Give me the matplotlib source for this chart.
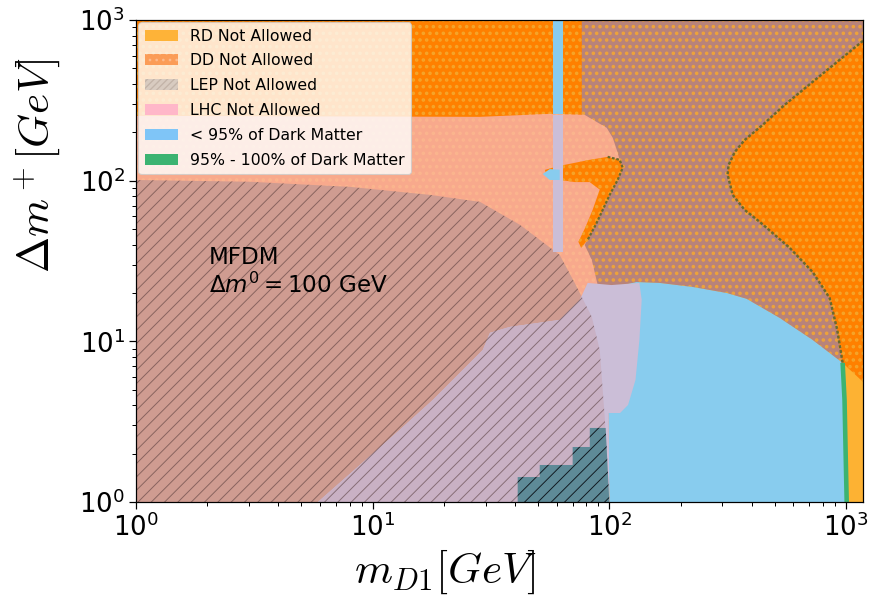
import numpy as np
import matplotlib
matplotlib.use('Agg')
import matplotlib.pyplot as plt
from matplotlib.patches import Patch

# axis ranges
x_lim = [1, 1180]
y_lim = [1, 1000]

# 95% DM contour (green band), top right -> bottom
curve_x = [1180, 940, 723, 550, 444, 373, 339, 319, 316, 332, 373, 432, 578, 723, 853, 918, 968, 986, 996, 1007]
curve_y = [742, 565, 412, 296, 222, 179, 151, 125, 109, 81.6, 65.8, 55.4, 38.2, 27.0, 18.6, 11.8, 7.34, 4.32, 2.11, 1.0]
n_dd = 17  # contour points covered by DD

# top edge of the allowed < 95% DM region
arc_x = [102, 130, 163, 225, 313, 380, 524, 723, 968]
arc_y = [21.5, 23.4, 23.1, 21.8, 20.0, 18.4, 14.0, 10.2, 7.34]

# left edge of DD over DM region
mauve_left_x = [87.6, 82.6, 75.0, 76.5, 76.5]
mauve_left_y = [20.9, 23.1, 37.1, 256.8, 1000]

# DD lower edge at the right side
dd_right_y = 5.59

# LHC + DD region
lhc_x = [1, 28.4, 56.0, 78.7, 82.6, 97.5, 103.4, 107.5, 110.6, 105.4, 95.6, 86.8, 78.7, 84.3, 89.3, 91.1, 98.4, 1]
lhc_y = [253.2, 249.6, 260.5, 256.8, 246.0, 213.2, 184.7, 155.5, 134.8, 101.2, 75.9, 53.1, 39.8, 32.1, 22.4, 11.8, 1, 1]

# DD blob near the higgs funnel
blob_x = [53.4, 61.7, 71.4, 82.6, 98.4, 110.6, 113.9, 108.5, 100.4, 93.8, 87.6, 81.0, 76.0, 74.0, 79.0, 85.0, 91.1, 82.6, 71.4, 61.7, 54.9]
blob_y = [116.7, 123.7, 129.1, 134.8, 140.7, 134.8, 120.2, 101.2, 81.6, 65.8, 53.1, 42.8, 38.2, 41.6, 50.8, 65.8, 88.0, 98.0, 98.0, 101.2, 104.1]
blob_edge_x = [98.4, 110.6, 113.9, 108.5, 100.4, 93.8, 87.6, 81.0]
blob_edge_y = [140.7, 134.8, 120.2, 101.2, 81.6, 65.8, 53.1, 42.8]

# LHC over DM region
lav_x = [5.87, 8.83, 13.0, 17.96, 29.2, 31.3, 38.0, 61.7, 75.0, 81.0, 102, 134, 137, 134, 129, 120, 111, 99.4, 100]
lav_y = [1, 1.70, 2.81, 4.32, 8.84, 11.3, 12.3, 13.6, 18.1, 23.1, 22.4, 23.1, 18.1, 10.2, 5.75, 4.02, 3.58, 3.58, 1]

# LEP excluded region
lep_x = [1, 1, 3.03, 8.01, 17.4, 28.4, 41.9, 61.7, 71.4, 84.3, 91.1, 95.6, 100]
lep_y = [1, 101, 98.4, 91.5, 81.6, 73.8, 53.1, 34.5, 23.1, 14.2, 8.84, 3.38, 1]

# darker LEP steps
stair_x = [41.0, 41.0, 50.8, 50.8, 70.0, 70.0, 82.7, 82.7, 96.5, 100]
stair_y = [1, 1.43, 1.43, 1.70, 1.70, 2.20, 2.20, 2.89, 2.89, 1]

# higgs funnel strip
strip_x = [57.7, 63.6]
strip_split = 257
strip_bottom = 36
spot_x = [52.3, 56.0, 61.7, 61.7, 56.0]
spot_y = [110, 118, 117, 101, 101]

legend_labels = ['RD Not Allowed', 'DD Not Allowed', 'LEP Not Allowed', 'LHC Not Allowed',
                 '< 95% of Dark Matter', '95% - 100% of Dark Matter']


def hlw(patches, lw):
    for p in patches:
        if hasattr(p, 'set_hatch_linewidth'):
            p.set_hatch_linewidth(lw)


DPI = 80
fig = plt.figure(figsize=(869 / DPI, 603 / DPI), dpi=DPI)
ax = fig.add_axes([136 / 869, 1 - 502 / 603, 727 / 869, 482 / 603])
ax.set_xscale('log')
ax.set_yscale('log')

dot_lw = 2.0
line_lw = 0.85

# base: DD over RD
plt.rcParams['hatch.linewidth'] = dot_lw
p = ax.fill([x_lim[0], x_lim[1], x_lim[1], x_lim[0]], [y_lim[0], y_lim[0], y_lim[1], y_lim[1]],
            facecolor='#ff8000', edgecolor='#f5a52a', hatch='..', lw=0, zorder=1)
hlw(p, dot_lw)

# DD over DM
mauve_x = [76.5, 1180] + curve_x[:n_dd] + arc_x[-2::-1] + mauve_left_x
mauve_y = [1000, 1000] + curve_y[:n_dd] + arc_y[-2::-1] + mauve_left_y
p = ax.fill(mauve_x, mauve_y, facecolor='#b8837a', edgecolor='#eea33a', hatch='..', lw=0, zorder=2)
hlw(p, dot_lw)

# allowed DM
blue_x = [100, 97.5] + arc_x + curve_x[n_dd:]
blue_y = [1, 21] + arc_y + curve_y[n_dd:]
ax.fill(blue_x, blue_y, facecolor='#88ccee', lw=0, zorder=3)

# RD only
rd_x = curve_x[n_dd - 1:] + [1180, 1180]
rd_y = curve_y[n_dd - 1:] + [1, dd_right_y]
ax.fill(rd_x, rd_y, facecolor='#fdb233', lw=0, zorder=3)

# strip top part
ax.fill_between(strip_x, strip_split, y_lim[1], facecolor='#88ccee', lw=0, zorder=3)

# LHC over DD
p = ax.fill(lhc_x, lhc_y, facecolor='#f8a98c', edgecolor='#fbb58e', hatch='..', lw=0, zorder=4)
hlw(p, dot_lw)
p = ax.fill(blob_x, blob_y, facecolor='#ff8000', edgecolor='#f5a52a', hatch='..', lw=0, zorder=5)
hlw(p, dot_lw)
ax.plot(blob_edge_x, blob_edge_y, color='#6a6a2c', lw=2.0, ls=(0, (1.2, 0.8)), zorder=6)

# LEP fill
lep_patch = ax.fill(lep_x, lep_y, facecolor='#cf9c91', lw=0, zorder=6)[0]

# LHC over DM
ax.fill(lav_x, lav_y, facecolor='#cbbed7', lw=0, zorder=7)
lav2 = ax.fill(lav_x, lav_y, facecolor='#c9b1c4', lw=0, zorder=7.5)[0]
lav2.set_clip_path(lep_patch)

ax.fill_between(strip_x, strip_bottom, strip_split, facecolor='#cbbed7', lw=0, zorder=7)
ax.fill(spot_x, spot_y, facecolor='#88ccee', lw=0, zorder=7)

# LEP hatch
plt.rcParams['hatch.linewidth'] = line_lw
p = ax.fill(lep_x, lep_y, facecolor='none', edgecolor=(0.3, 0.2, 0.2, 0.55), hatch='//', lw=0, zorder=8)
hlw(p, line_lw)
p = ax.fill(stair_x, stair_y, facecolor='#5e8a97', edgecolor='#101820', hatch='//', lw=0, zorder=9)
hlw(p, line_lw)

# contour
ax.plot(curve_x[:n_dd], curve_y[:n_dd], color='#6a6a2c', lw=2.2, ls=(0, (1.2, 0.8)), zorder=10)
ax.plot(curve_x[n_dd - 1:], curve_y[n_dd - 1:], color='#3cb371', lw=4.1, zorder=10, solid_capstyle='butt')

ax.text(2.03, 39.3, 'MFDM\n$\\Delta m^0 = 100$ GeV', fontsize=20.7, va='top', ha='left', zorder=12)

ax.set_xlim(x_lim)
ax.set_ylim(y_lim)
ax.tick_params(which='major', length=6.5, width=1.1, labelsize=23.4)
ax.tick_params(which='minor', length=3.8, width=0.9)
for s in ax.spines.values():
    s.set_linewidth(1.1)
    s.set_zorder(20)

ax.set_xlabel(r'$m_{D1} [GeV]$', fontsize=39, math_fontfamily='cm')
ax.xaxis.set_label_coords(0.426, -0.095)
ax.set_ylabel(r'$\Delta m^+ [GeV]$', fontsize=39, math_fontfamily='cm')
ax.yaxis.set_label_coords(-0.102, 0.699)

plt.rcParams['hatch.linewidth'] = 1.2
handles = [
    Patch(facecolor='#feb338', lw=0, label=legend_labels[0]),
    Patch(facecolor='#fb9c57', edgecolor='#fdba8c', hatch='..', lw=0, label=legend_labels[1]),
    Patch(facecolor='#d8cbc0', edgecolor='#c3b4a8', hatch='////', lw=0, label=legend_labels[2]),
    Patch(facecolor='#ffb7c9', lw=0, label=legend_labels[3]),
    Patch(facecolor='#7fc5f7', lw=0, label=legend_labels[4]),
    Patch(facecolor='#3cb371', lw=0, label=legend_labels[5]),
]
leg = ax.legend(handles=handles, loc='upper left', fontsize=14.2, borderaxespad=0.15,
                framealpha=0.8, handlelength=2.1, labelspacing=0.62)
leg.set_zorder(30)

fig.savefig('out.png', dpi=DPI)
